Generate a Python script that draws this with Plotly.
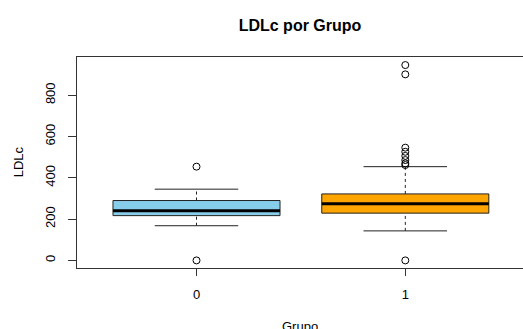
import plotly.graph_objects as go

# ---- data ----
groups = ["0", "1"]
q1 = [217, 229]
medians = [240, 274]
q3 = [290, 322]
lower_whisker = [168, 143]
upper_whisker = [345, 454]
outliers = [
    [454, 0],
    [946, 901, 546, 526, 506, 486, 470, 462, 0],
]
fill_colors = ["#87CEEB", "#FFA500"]

FONT = "Liberation Sans, Arial, Helvetica, sans-serif"
box_half = 0.4
staple_half = 0.2

fig = go.Figure()
for i, g in enumerate(groups):
    x = i + 1
    # dashed whiskers
    for a, b in [(q3[i], upper_whisker[i]), (lower_whisker[i], q1[i])]:
        fig.add_trace(go.Scatter(x=[x, x], y=[a, b], mode="lines",
                                 line=dict(color="#222", width=1, dash="3px,3px"),
                                 hoverinfo="skip", showlegend=False))
    # staples
    for w in [upper_whisker[i], lower_whisker[i]]:
        fig.add_trace(go.Scatter(x=[x - staple_half, x + staple_half], y=[w, w], mode="lines",
                                 line=dict(color="#222", width=1),
                                 hoverinfo="skip", showlegend=False))
    # box
    fig.add_trace(go.Scatter(
        x=[x - box_half, x + box_half, x + box_half, x - box_half, x - box_half],
        y=[q1[i], q1[i], q3[i], q3[i], q1[i]],
        mode="lines", fill="toself", fillcolor=fill_colors[i],
        line=dict(color="#222", width=1), hoverinfo="skip", showlegend=False))
    # median
    fig.add_trace(go.Scatter(x=[x - box_half, x + box_half], y=[medians[i], medians[i]],
                             mode="lines", line=dict(color="black", width=3),
                             hoverinfo="skip", showlegend=False))
    # outliers
    fig.add_trace(go.Scatter(x=[x] * len(outliers[i]), y=outliers[i], mode="markers",
                             marker=dict(symbol="circle-open", size=7, color="black",
                                         line=dict(width=1, color="black")),
                             showlegend=False))

fig.update_layout(
    width=523, height=329,
    margin=dict(l=77, r=0, t=57, b=61, autoexpand=False),
    paper_bgcolor="white", plot_bgcolor="white",
    font=dict(family=FONT, size=12, color="black"),
    title=dict(text="<b>LDLc por Grupo</b>", x=0.5, xref="paper", xanchor="center",
               y=1 - 25 / 329, yanchor="middle", font=dict(size=16, family=FONT)),
    xaxis=dict(range=[0.4277, 2.5637], tickvals=[1, 2], ticktext=groups,
               ticks="outside", ticklen=7, tickcolor="#333", showline=True,
               linecolor="#333", linewidth=1, mirror=True, showgrid=False,
               zeroline=False, ticklabelstandoff=7, tickfont=dict(size=13),
               automargin=False),
    yaxis=dict(range=[-36.7, 985], tickvals=[0, 200, 400, 600, 800],
               ticks="outside", ticklen=8, tickcolor="#333", showline=True,
               linecolor="#333", linewidth=1, showgrid=False, zeroline=False,
               tickangle=-90, ticklabelstandoff=8, tickfont=dict(size=13),
               automargin=False),
    annotations=[
        dict(text="Grupo", xref="paper", yref="paper", x=0.5, y=0, yshift=-58,
             xanchor="center", yanchor="middle", showarrow=False, font=dict(size=13)),
        dict(text="LDLc", xref="paper", yref="paper", x=0, y=(268 - 162) / 211.6,
             xshift=-59, xanchor="center", yanchor="middle", textangle=-90,
             showarrow=False, font=dict(size=13)),
    ],
)

fig.write_html("out.html", config={"displayModeBar": False},
               post_script="document.body.style.margin='0';")
